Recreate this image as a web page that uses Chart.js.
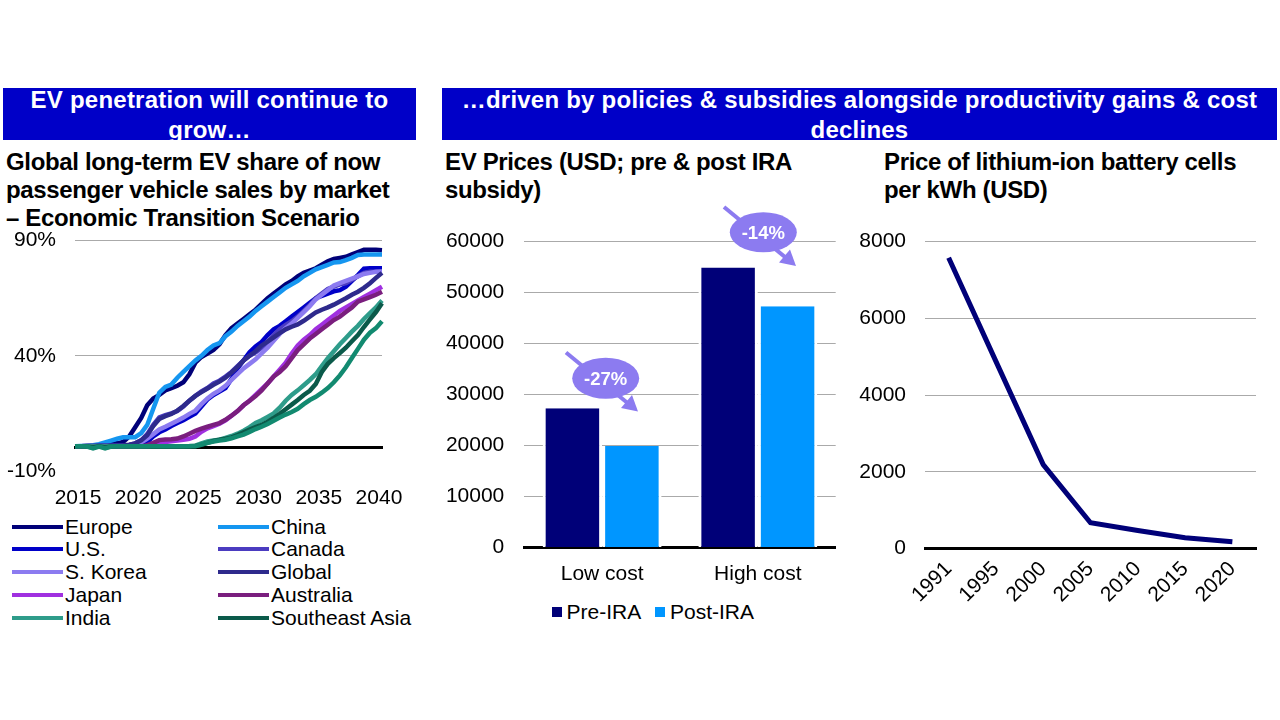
<!DOCTYPE html>
<html><head><meta charset="utf-8">
<script src="https://cdn.jsdelivr.net/npm/chart.js@4"></script>
<style>
html,body{margin:0;padding:0;background:#fff;width:1280px;height:720px;overflow:hidden;font-family:"Liberation Sans",Arial,sans-serif;color:#000}
.banner{position:absolute;top:88px;height:52px;background:#0000c8;color:#fff;font-weight:bold;font-size:24px;line-height:30px;text-align:center;overflow:hidden;letter-spacing:.23px}
.banner span{display:block;position:relative;top:-3px}
.title{position:absolute;font-weight:bold;font-size:24px;line-height:28px;white-space:pre;letter-spacing:-.35px}
canvas{position:absolute}
.lg{position:absolute;font-size:21px;line-height:22px;white-space:nowrap}
.sw{position:absolute;height:4px}
.sq{position:absolute;width:10px;height:10px}
svg{position:absolute;left:0;top:0;pointer-events:none}
</style></head><body>
<div class="banner" style="left:3px;width:413px;padding:0 20px;box-sizing:border-box"><span>EV penetration will continue to grow…</span></div>
<div class="banner" style="left:442px;width:835px;padding:0 10px;box-sizing:border-box"><span>…driven by policies &amp; subsidies alongside productivity gains &amp; cost declines</span></div>
<div class="title" style="left:6px;top:148px">Global long-term EV share of now
passenger vehicle sales by market
– Economic Transition Scenario</div>
<div class="title" style="left:445px;top:148px">EV Prices (USD; pre &amp; post IRA
subsidy)</div>
<div class="title" style="left:884px;top:148px">Price of lithium-ion battery cells
per kWh (USD)</div>
<canvas id="c1" width="420" height="300" style="left:0;top:209px"></canvas>
<canvas id="c2" width="420" height="386" style="left:440px;top:208.6px"></canvas>
<canvas id="c3" width="420" height="406" style="left:850px;top:209.6px"></canvas>
<div id="legends"></div>
<svg width="1280" height="720">
<g stroke="#8c7bf0" fill="#8c7bf0">
<line x1="566" y1="352.5" x2="630" y2="405" stroke-width="4"/>
<polygon points="638,411.5 621,408 632,395" stroke="none"/>
<ellipse cx="605.7" cy="378.3" rx="33.5" ry="20.5" stroke="none"/>
<line x1="724" y1="207" x2="788" y2="259.5" stroke-width="4"/>
<polygon points="796,266 779,262.5 790,249.5" stroke="none"/>
<ellipse cx="763.3" cy="232.3" rx="33.5" ry="20" stroke="none"/>
</g>
<g fill="#fff" font-family="Liberation Sans" font-weight="bold" font-size="18.5" text-anchor="middle">
<text x="605.7" y="385">-27%</text>
<text x="763.3" y="239">-14%</text>
</g>
</svg>
<script>
const shareYears = ["2015","2015.5","2016","2016.5","2017","2017.5","2018","2018.5","2019","2019.5","2020","2020.5","2021","2021.5","2022","2022.5","2023","2023.5","2024","2024.5","2025","2025.5","2026","2026.5","2027","2027.5","2028","2028.5","2029","2029.5","2030","2030.5","2031","2031.5","2032","2032.5","2033","2033.5","2034","2034.5","2035","2035.5","2036","2036.5","2037","2037.5","2038","2038.5","2039","2039.5","2040","2040.5"];
const europe = [.7,.7,.8,.9,1.1,1.5,1.8,2,2.6,5,9,13,18.5,21.5,23,25,26,27,28.5,32,37,39.5,41,42.5,45,49,52,54,56,58,60,62.5,65,67,69,71,72.5,74.5,76,77,78,79.5,81,82,82.5,83,84,85,86,86,86,85.8];
const china = [.7,.8,.9,1.2,1.6,2.4,3.2,4,4.6,4.7,4.7,6.5,10,17,24,26.5,27.5,30.5,33,35.5,38,40,42.5,44.5,45.5,48.5,50.5,53,55,57,59.5,61.5,63.5,65.5,67.5,69.5,71,72.5,74.5,76,77.5,78.5,79.5,80.5,80.7,81.5,82.5,83.8,84,84,84,84];
const us = [.7,.7,.7,.7,.8,.8,.8,.8,.8,.9,.9,1,2.5,5,6.8,8,9.5,10.8,12,13.5,15,18,21,23,24.5,26,30,34.5,38,41.5,44,46,49,51.5,53,55,57,59,61,63,65,66,67,68,68.5,70,72.5,75,77.8,78,78,78];
const canada = [.7,.7,.8,.8,.9,.9,.9,1,1.1,1.3,2,3.3,6,10,13.3,14.2,15,16,18,20.5,22.6,24.5,26,28,29.2,31,33,35.5,38,40,41.5,43.5,46,49,51.5,53.4,55,57,59.5,62,65,67,69,70,71,71.5,73,74.5,76,76.5,76.5,76.6];
const korea = [.7,.7,.7,.7,.8,.8,.8,.8,.9,1,1.3,2.4,4,6,8,9.2,10.5,11.8,13.2,14.8,16.2,19,21.5,23.5,25,27,29.5,32,34.5,36.5,38.5,41,43.5,46.5,49.5,52,54,56.5,59,61.5,64.5,66.5,68.5,70.5,71.5,72.5,73.5,74.5,75.5,76,76.5,76.6];
const globalShare = [.7,.7,.8,.9,1,1,1,1.1,1.2,1.4,2,3.3,5.5,9.5,12.6,13.8,14.8,16.2,18.2,20.5,22.6,24.2,25.8,27.4,28.8,30.5,32.8,35.2,38,40,42,44.5,46.2,48,49.8,51.5,52.6,53.6,55.2,57,58.8,60,61,62.2,63.6,65,66.5,67.8,69.5,71.5,73.8,76];
const japan = [.7,.7,.7,.7,.7,.7,.7,.7,.7,.7,.7,.7,.7,1,1.8,2.6,2.9,3.2,3.6,4,5,7,8.5,9.5,10.5,12,14,16,18.5,20.5,23,25.5,28,31,34,37,41,44.5,47,49,51.5,53.5,55.5,57.5,59.5,61,62.5,64,65.5,67,68.5,70];
const australia = [.7,.7,.7,.7,.7,.7,.7,.7,.7,.7,.7,.7,1.2,2.2,3.4,3.7,3.8,4.1,5,6.2,7.4,8.4,9.2,10,10.8,12.2,14,16,18.5,20.5,22.5,25,28,31,33,35.5,39,42.5,45,47.5,49.5,51.5,53.5,55.5,57,59,61,63.5,64.5,65.5,66.5,67.8];
const india = [.7,.7,.7,.6,.7,.6,.7,.7,.7,.7,.7,.7,.7,.7,.7,.7,.7,.7,.7,.8,1,2,2.8,3.2,3.6,4.4,5.2,6.2,7.5,9,10.8,12,13.5,15,17.5,20.5,23,25,27.2,29.5,32,35.5,39,42,45,47.7,50.5,53,56,58.5,61,64];
const seAsia = [.7,.7,.6,.2,.7,.2,.6,.7,.7,.7,.7,.7,.7,.7,.7,.7,.7,.7,.7,.7,.8,1.4,2.2,3,3.6,4,4.6,5.6,6.8,8,9,10,11.4,13,14.8,16.8,18.8,20.8,23,24.8,27.8,33,36.5,39,41.2,43.5,46.3,49,52.5,55.8,59,62.8];
const otherMarket = [.7,.7,.6,-.2,.6,-.2,.6,.7,.7,.7,.7,.7,.7,.7,.7,.7,.7,.7,.7,.7,.7,1.5,2.2,2.8,3.2,3.6,4.2,5,5.8,7,8.2,9.2,10.4,11.8,13.2,14.5,15.6,17,19,20.8,22.2,24,26,28.5,31.5,35,39,43,47,50,52,55];
const marketNames = ["Europe","China","U.S.","Canada","S. Korea","Global","Japan","Australia","India","Southeast Asia"];
const marketColors = ["#000078","#1596f0","#0000c8","#4b3cc0","#8c7bf0","#2e2a8c","#a030e0","#7a1e7e","#2e9c8a","#0b5a4a","#128a70"];
const shareTicks = ["2015","2020","2025","2030","2035","2040"];
const priceCats = ["Low cost","High cost"];
const preIRA = [27300,54900];
const postIRA = [19900,47300];
const batteryYears = ["1991","1995","2000","2005","2010","2015","2020"];
const batteryPrice = [7580,4880,2190,676,476,286,182];

Chart.defaults.font.family = '"Liberation Sans",Arial,sans-serif';
Chart.defaults.font.size = 21;
Chart.defaults.color = '#000';
const GRID='#aaaaaa';
const base = {responsive:false,animation:false,devicePixelRatio:1,plugins:{legend:{display:false},tooltip:{enabled:false}}};
const fixW = w => s => { s.width = w; };
const fixH = h => s => { s.height = h; };
const plain = v => String(v);

const seriesAll=[europe,china,us,canada,korea,globalShare,japan,australia,india,seAsia,otherMarket];
new Chart(document.getElementById('c1'),{type:'line',
 data:{labels:shareYears,datasets:seriesAll.map((d,i)=>({label:marketNames[i]||'',data:d,borderColor:marketColors[i],borderWidth:4.5,pointRadius:0,tension:0,fill:false,order:seriesAll.length-i,clip:false}))},
 options:{...base,layout:{padding:{top:14.5,right:37,bottom:38,left:0}},
  scales:{
   x:{position:{y:0},offset:false,grid:{display:false,drawTicks:false},border:{color:'#000',width:3},
      ticks:{autoSkip:false,maxRotation:0,minRotation:0,padding:38,labelOffset:3,callback(v){const l=this.getLabelForValue(v);return shareTicks.includes(l)?l:'';}}},
   y:{min:-10,max:90,afterFit:fixW(75),border:{display:false},grid:{drawTicks:false,color:c=>c.tick.value===-10?'rgba(0,0,0,0)':GRID},
      ticks:{stepSize:50,padding:19,callback:v=>v+'%'}}
  }}});

new Chart(document.getElementById('c2'),{type:'bar',
 data:{labels:priceCats,datasets:[
  {label:'Pre-IRA',data:preIRA,backgroundColor:'#000078',borderColor:'#fff',borderWidth:{left:3,right:3,top:0,bottom:0},borderSkipped:false},
  {label:'Post-IRA',data:postIRA,backgroundColor:'#0096ff',borderColor:'#fff',borderWidth:{left:3,right:3,top:0,bottom:0},borderSkipped:false}]},
 options:{...base,layout:{padding:{top:15,right:24.3,bottom:0,left:0}},
  datasets:{bar:{categoryPercentage:.764,barPercentage:1}},
  scales:{
   x:{z:1,afterFit:fixH(47.5),grid:{display:false,drawTicks:false},border:{color:'#000',width:3},ticks:{padding:14,maxRotation:0}},
   y:{min:0,max:60000,afterFit:fixW(84.3),border:{display:false},grid:{drawTicks:false,color:GRID},ticks:{stepSize:10000,padding:20,callback:plain}}
  }}});

new Chart(document.getElementById('c3'),{type:'line',
 data:{labels:batteryYears,datasets:[{data:batteryPrice,borderColor:'#000078',borderWidth:5,pointRadius:0,tension:0,fill:false}]},
 options:{...base,layout:{padding:{top:15.3,right:14,bottom:0,left:0}},
  scales:{
   x:{offset:true,afterFit:fixH(67.3),grid:{display:false,drawTicks:false},border:{color:'#000',width:3},ticks:{padding:8,maxRotation:45,minRotation:45,autoSkip:false}},
   y:{min:0,max:8000,afterFit:fixW(75),border:{display:false},grid:{drawTicks:false,color:GRID},ticks:{stepSize:2000,padding:19,callback:plain}}
  }}});

const host=document.getElementById('legends');
marketNames.forEach((n,i)=>{
 const col=i%2,row=(i-col)/2;
 const y=526.5+row*22.8, sx=col?218:12, tx=col?271:65;
 const s=document.createElement('div');s.className='sw';s.style.cssText=`left:${sx}px;top:${y-2}px;width:51px;background:${marketColors[i]}`;host.appendChild(s);
 const t=document.createElement('div');t.className='lg';t.style.cssText=`left:${tx}px;top:${y-11}px`;t.textContent=n;host.appendChild(t);
});
[['Pre-IRA','#000078',552,566.5],['Post-IRA','#0096ff',655,670]].forEach(([n,c,sx,tx])=>{
 const s=document.createElement('div');s.className='sq';s.style.cssText=`left:${sx}px;top:607px;background:${c}`;host.appendChild(s);
 const t=document.createElement('div');t.className='lg';t.style.cssText=`left:${tx}px;top:601px`;t.textContent=n;host.appendChild(t);
});
</script>
</body></html>
